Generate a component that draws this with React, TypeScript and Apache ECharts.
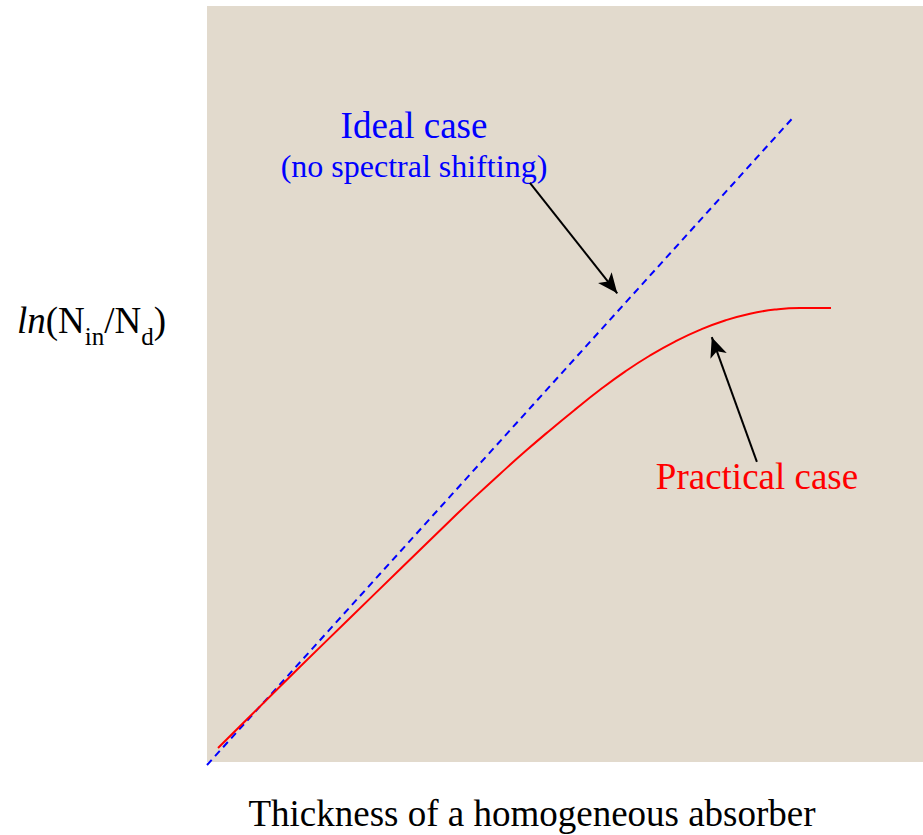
import React, { useEffect, useRef } from "react";
import * as echarts from "echarts";

// Absorber thickness (arbitrary units) and ln(Nin/Nd) for the practical curve
const practicalX = [
  1.54, 6.01, 12.99, 19.97, 26.96, 33.94, 37.43, 40.92, 44.41, 47.91, 51.4,
  54.89, 58.38, 61.87, 65.36, 68.85, 72.35, 75.84, 79.33, 82.82, 87.15,
];
const practicalY = [
  1.85, 6.05, 12.59, 19.05, 25.49, 31.91, 35.07, 38.1, 41.06, 43.89, 46.61,
  49.23, 51.64, 53.77, 55.61, 57.16, 58.4, 59.3, 59.85, 60.06, 60.06,
];

// Ideal case: straight line (no spectral shifting)
const idealX = [0, 82];
const idealY = [-0.4, 85.4];

// Annotation arrows: [tailX, tailY, tipX, tipY]
const idealArrow = [45.1, 76.6, 57.3, 62.0];
const practicalArrow = [76.8, 39.7, 70.5, 56.2];

const SERIF = "Liberation Serif, Times New Roman, Times, serif";

export default function App() {
  const ref = useRef<HTMLDivElement>(null);

  useEffect(() => {
    document.body.style.margin = "0";
    if (!ref.current) return;
    const chart = echarts.init(ref.current, null, { renderer: "svg" });

    const arrow = (a: number[]) => [
      { coord: [a[0], a[1]], symbol: "none" },
      { coord: [a[2], a[3]], symbol: "arrow" },
    ];

    const label = (text: string, x: number, y: number, size: number, fill: string) => ({
      type: "text",
      x,
      y,
      style: {
        text,
        fill,
        fontFamily: SERIF,
        fontSize: size,
        align: "center",
        verticalAlign: "middle",
      },
    });

    chart.setOption({
      animation: false,
      backgroundColor: "#ffffff",
      grid: {
        left: 207,
        top: 6,
        width: 716,
        height: 756,
        show: true,
        backgroundColor: "#e2dacd",
        borderWidth: 0,
      },
      xAxis: { type: "value", min: 0, max: 100, show: false },
      yAxis: { type: "value", min: 0, max: 100, show: false },
      series: [
        {
          name: "Ideal case",
          type: "line",
          data: idealX.map((x, i) => [x, idealY[i]]),
          symbol: "none",
          clip: false,
          lineStyle: { color: "#0000ff", width: 2, type: [7, 5] },
        },
        {
          name: "Practical case",
          type: "line",
          data: practicalX.map((x, i) => [x, practicalY[i]]),
          symbol: "none",
          smooth: 0.5,
          lineStyle: { color: "#ff0000", width: 2 },
          markLine: {
            silent: true,
            animation: false,
            symbolSize: [13, 20],
            label: { show: false },
            lineStyle: { color: "#000000", width: 2, type: "solid" },
            data: [arrow(idealArrow), arrow(practicalArrow)],
          },
        },
      ],
      graphic: [
        label("Ideal case", 414, 125, 37, "#0000ff"),
        label("(no spectral shifting)", 414, 166, 32, "#0000ff"),
        label("Practical case", 757, 476, 37, "#ff0000"),
        label("Thickness of a homogeneous absorber", 532, 813, 37, "#000000"),
        {
          type: "text",
          x: 17,
          y: 302,
          style: {
            text: "{i|ln}{n|(N}{s|in}{n|/N}{s|d}{n|)}",
            fill: "#000000",
            fontFamily: SERIF,
            align: "left",
            verticalAlign: "top",
            rich: {
              i: { fontSize: 37, fontStyle: "italic", fontFamily: SERIF, lineHeight: 37, verticalAlign: "top" },
              n: { fontSize: 37, fontFamily: SERIF, lineHeight: 37, verticalAlign: "top" },
              s: { fontSize: 25, fontFamily: SERIF, lineHeight: 25, verticalAlign: "top", padding: [22, 0, 0, 0] },
            },
          },
        },
      ],
    });

    return () => chart.dispose();
  }, []);

  return (
    <div
      ref={ref}
      style={{ position: "absolute", left: 0, top: 0, width: 923, height: 835 }}
    />
  );
}
